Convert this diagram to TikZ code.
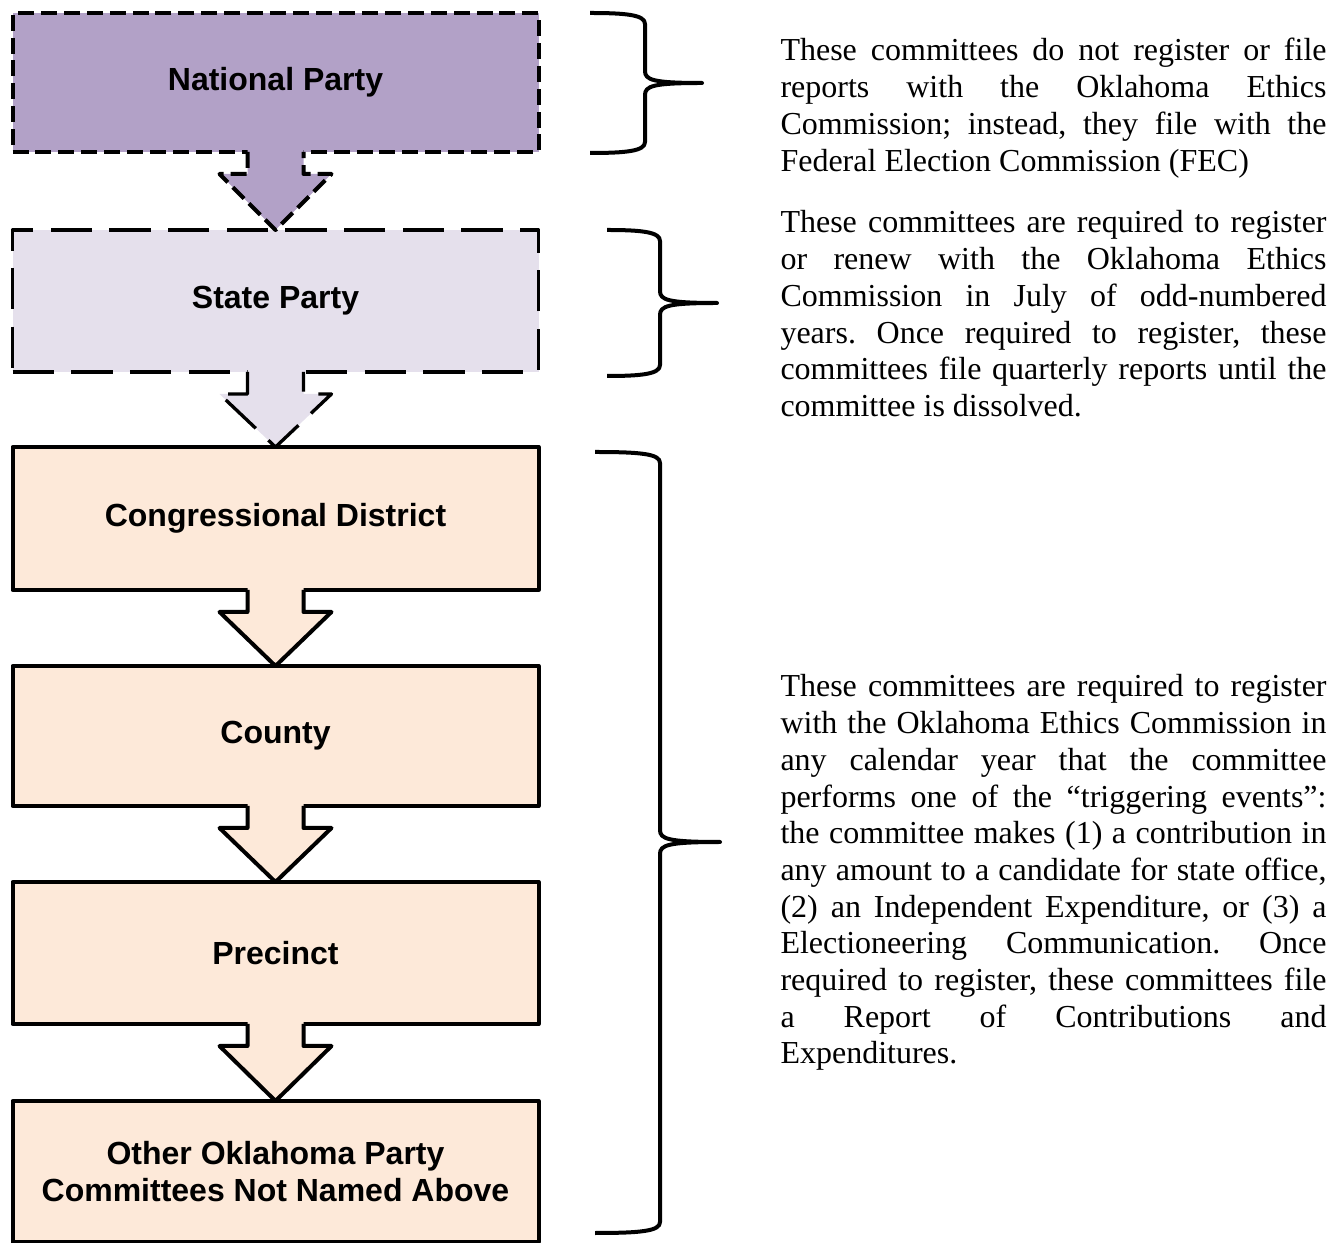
\documentclass[tikz,border=0pt]{standalone}
\usepackage{fontspec}
\setmainfont{Liberation Serif}
\setsansfont{Liberation Sans}
\usetikzlibrary{calc}
\definecolor{natfill}{RGB}{178,161,199}
\definecolor{statefill}{RGB}{229,224,236}
\definecolor{locfill}{RGB}{253,233,217}
\tikzset{
  party/.style={rectangle, draw=black, line width=1.5pt, outer sep=0pt, minimum width=197.25pt, align=center, font=\sffamily\bfseries\fontsize{12}{13.8}\selectfont},
  natbox/.style={party, fill=natfill, dash pattern=on 6pt off 2.6pt},
  statebox/.style={party, fill=statefill, line width=1.25pt, dash pattern=on 15.5pt off 6.5pt},
  locbox/.style={party, fill=locfill},
  natarrow/.style={fill=natfill, line width=1.5pt, dash pattern=on 6pt off 2.6pt},
  statearrow/.style={fill=statefill, line width=1.25pt, dash pattern=on 15.5pt off 6.5pt},
  locarrow/.style={fill=locfill, line width=1.5pt},
  brc/.style={line width=1.5pt},
  note/.style={anchor=base west, inner sep=0pt, text width=204.75pt, align=justify, font=\fontsize{12}{13.76}\selectfont\frenchspacing}
}
\begin{document}
\begin{tikzpicture}[x=0.375pt, y=-0.375pt, line join=round]
\useasboundingbox (0,0) rectangle (1336,1243);

\node[natbox, minimum height=52.1pt] (nat) at (275.5,82.5) {National Party};
\node[statebox, minimum height=53.25pt] (state) at (275.5,301) {State Party};
\node[locbox, minimum height=53.6pt] (cd) at (275.5,518.5) {Congressional District};
\node[locbox, minimum height=52.5pt] (county) at (275.5,736) {County};
\node[locbox, minimum height=53.25pt] (prec) at (275.5,953) {Precinct};
\node[locbox, minimum height=52.9pt] (other) at (275.5,1171.5) {Other Oklahoma Party\\Committees Not Named Above};

% block arrows between the levels
\foreach \a/\b/\s in {nat/state/natarrow, state/cd/statearrow, cd/county/locarrow, county/prec/locarrow, prec/other/locarrow}{
    \fill[\s] ($(\a.south)+(-28,-3)$) -- ($(\a.south)+(-28,22)$) -- ($(\a.south)+(-56,22)$) -- (\b.north)
        -- ($(\a.south)+(56,22)$) -- ($(\a.south)+(28,22)$) -- ($(\a.south)+(28,-3)$) -- cycle;
    \draw[\s, fill=none] ($(\a.south)+(-28,0)$) -- ($(\a.south)+(-28,22)$) -- ($(\a.south)+(-56,22)$) -- (\b.north)
        -- ($(\a.south)+(56,22)$) -- ($(\a.south)+(28,22)$) -- ($(\a.south)+(28,0)$);
}

% braces
\foreach \xl/\xv/\xt/\yt/\ym/\yb in {590/645/702/13/83/153, 607/660/717/230/303/376, 595/660/720/452/842/1233}{
    \draw[brc] (\xl,\yt) .. controls (\xv-18,\yt) and (\xv,\yt+2) .. (\xv,\yt+11) -- (\xv,\ym-12)
        .. controls (\xv,\ym-3) and (\xv+8,\ym) .. (\xt,\ym)
        .. controls (\xv+8,\ym) and (\xv,\ym+3) .. (\xv,\ym+12) -- (\xv,\yb-11)
        .. controls (\xv,\yb-2) and (\xv-18,\yb) .. (\xl,\yb);
}

\node[note] (notenat) at (780,61) {These committees do not register or file\linebreak
reports with the Oklahoma Ethics\linebreak
Commission; instead, they file with the\linebreak
Federal Election Commission (FEC)};
\node[note] (notestate) at (780,233) {These committees are required to register\linebreak
or renew with the Oklahoma Ethics\linebreak
Commission in July of odd-numbered\linebreak
years. Once required to register, these\linebreak
committees file quarterly reports until the\linebreak
committee is dissolved.};
\node[note] (noteloc) at (780,697) {These committees are required to register\linebreak
with the Oklahoma Ethics Commission in\linebreak
any calendar year that the committee\linebreak
performs one of the ``triggering events'':\linebreak
the committee makes (1) a contribution in\linebreak
any amount to a candidate for state office,\linebreak
(2) an Independent Expenditure, or (3) a\linebreak
Electioneering Communication. Once\linebreak
required to register, these committees file\linebreak
a Report of Contributions and\linebreak
Expenditures.};
\end{tikzpicture}
\end{document}
